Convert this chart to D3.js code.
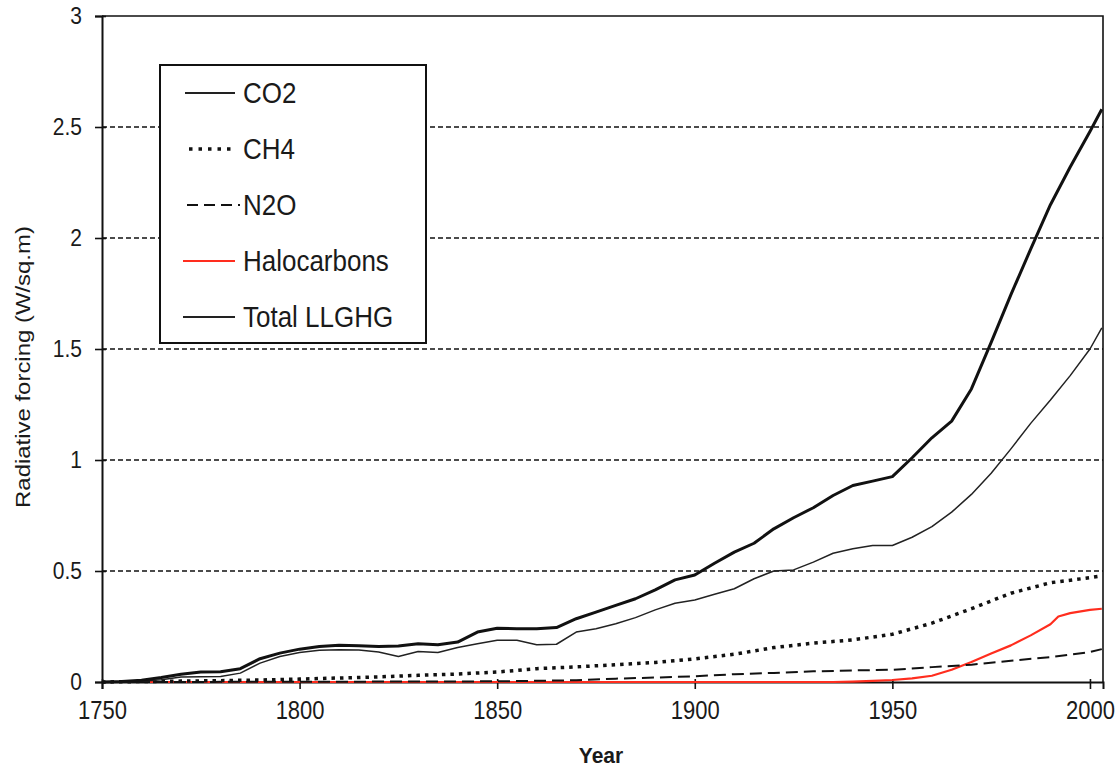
<!DOCTYPE html>
<html>
<head>
<meta charset="utf-8">
<script src="https://cdn.jsdelivr.net/npm/d3@7"></script>
<style>
  html, body { margin: 0; padding: 0; background: #fff; }
  svg { display: block; }
  text { font-family: "Liberation Sans", Arial, sans-serif; fill: #1a1a1a; }
</style>
</head>
<body>
<svg id="chart" width="1117" height="767"></svg>
<script>
// Radiative forcing of long-lived greenhouse gases since 1750 (W/m²)
const xTicks = [1750, 1800, 1850, 1900, 1950, 2000];
const yTicks = [0, 0.5, 1, 1.5, 2, 2.5, 3];
const yTickLabels = ["0", "0.5", "1", "1.5", "2", "2.5", "3"];
const xDomain = [1750, 2003.3];
const yDomain = [0, 3];

const totalYears = [1750, 1755, 1760, 1765, 1770, 1775, 1780, 1785, 1790, 1795, 1800, 1805, 1810, 1815, 1820, 1825, 1830, 1835, 1840, 1845, 1850, 1855, 1860, 1865, 1870, 1875, 1880, 1885, 1890, 1895, 1900, 1905, 1910, 1915, 1920, 1925, 1930, 1935, 1940, 1945, 1950, 1955, 1960, 1965, 1970, 1975, 1980, 1985, 1990, 1995, 2000, 2003];
const totalValues = [0, 0.002, 0.008, 0.02, 0.035, 0.045, 0.046, 0.06, 0.105, 0.13, 0.148, 0.16, 0.165, 0.163, 0.16, 0.162, 0.172, 0.168, 0.18, 0.225, 0.242, 0.24, 0.24, 0.245, 0.285, 0.315, 0.345, 0.375, 0.415, 0.46, 0.482, 0.535, 0.585, 0.625, 0.69, 0.74, 0.785, 0.84, 0.885, 0.905, 0.925, 1.01, 1.10, 1.175, 1.32, 1.53, 1.745, 1.95, 2.15, 2.32, 2.48, 2.58];

const co2Years = [1750, 1755, 1760, 1765, 1770, 1775, 1780, 1785, 1790, 1795, 1800, 1805, 1810, 1815, 1820, 1825, 1830, 1835, 1840, 1845, 1850, 1855, 1860, 1865, 1870, 1875, 1880, 1885, 1890, 1895, 1900, 1905, 1910, 1915, 1920, 1925, 1930, 1935, 1940, 1945, 1950, 1955, 1960, 1965, 1970, 1975, 1980, 1985, 1990, 1995, 2000, 2003];
const co2Values = [0, 0, 0.003, 0.01, 0.022, 0.024, 0.025, 0.04, 0.085, 0.115, 0.133, 0.143, 0.145, 0.144, 0.135, 0.115, 0.137, 0.133, 0.155, 0.172, 0.188, 0.188, 0.168, 0.17, 0.225, 0.24, 0.262, 0.29, 0.325, 0.355, 0.369, 0.395, 0.42, 0.465, 0.5, 0.505, 0.54, 0.58, 0.60, 0.615, 0.615, 0.652, 0.70, 0.765, 0.845, 0.94, 1.05, 1.165, 1.27, 1.38, 1.50, 1.595];

const ch4Years = [1750, 1760, 1770, 1780, 1790, 1800, 1810, 1820, 1830, 1840, 1850, 1860, 1870, 1880, 1890, 1900, 1910, 1920, 1930, 1940, 1950, 1960, 1970, 1980, 1990, 2000, 2003];
const ch4Values = [0, 0.002, 0.004, 0.006, 0.009, 0.013, 0.018, 0.023, 0.03, 0.036, 0.045, 0.06, 0.068, 0.078, 0.088, 0.104, 0.125, 0.155, 0.175, 0.19, 0.215, 0.265, 0.33, 0.40, 0.447, 0.47, 0.478];

const n2oYears = [1750, 1800, 1850, 1870, 1880, 1890, 1900, 1910, 1920, 1930, 1940, 1950, 1960, 1970, 1980, 1990, 2000, 2003];
const n2oValues = [0, 0.001, 0.003, 0.008, 0.015, 0.02, 0.026, 0.035, 0.041, 0.048, 0.052, 0.055, 0.067, 0.078, 0.096, 0.112, 0.135, 0.148];

const haloYears = [1760, 1935, 1940, 1945, 1950, 1955, 1960, 1965, 1970, 1975, 1980, 1985, 1990, 1992, 1995, 2000, 2003];
const haloValues = [0, 0, 0.002, 0.005, 0.009, 0.016, 0.028, 0.055, 0.09, 0.128, 0.165, 0.21, 0.26, 0.295, 0.31, 0.325, 0.33];

const legendLabels = ["CO2", "CH4", "N2O", "Halocarbons", "Total LLGHG"];

const plot = { left: 102, top: 16, right: 1103, bottom: 682 };
const stretch = 1.14; // lettering is drawn tall and narrow

const svg = d3.select("#chart");
const x = d3.scaleLinear().domain(xDomain).range([plot.left, plot.right]);
const y = d3.scaleLinear().domain(yDomain).range([plot.bottom, plot.top]);

// horizontal dashed gridlines
svg.append("g").selectAll("line")
  .data(yTicks.filter(v => v > 0 && v < 3))
  .join("line")
  .attr("x1", plot.left).attr("x2", plot.right)
  .attr("y1", d => y(d)).attr("y2", d => y(d))
  .attr("stroke", "#111").attr("stroke-width", 1.6)
  .attr("stroke-dasharray", "5,3");

// plot frame (top and right)
svg.append("path")
  .attr("d", `M${plot.left},${plot.top}H${plot.right}V${plot.bottom}`)
  .attr("fill", "none").attr("stroke", "#111").attr("stroke-width", 1.6);

// axes
const yAxis = svg.append("g")
  .attr("transform", `translate(${plot.left},0)`)
  .call(d3.axisLeft(y).tickValues(yTicks).tickFormat((d, i) => yTickLabels[i]).tickSize(7).tickPadding(13));
const xAxis = svg.append("g")
  .attr("transform", `translate(0,${plot.bottom})`)
  .call(d3.axisBottom(x).tickValues(xTicks).tickFormat(d3.format("d")).tickSize(7).tickPadding(8));

[yAxis, xAxis].forEach(g => {
  g.select(".domain").attr("stroke", "#111").attr("stroke-width", 2);
  g.selectAll(".tick line").attr("stroke", "#111").attr("stroke-width", 1.6);
  g.selectAll(".tick text").attr("fill", "#1a1a1a").style("font-family", '"Liberation Sans", Arial, sans-serif');
});
yAxis.selectAll(".tick line").attr("x1", 4);
yAxis.selectAll(".tick text").style("font-size", "21px")
  .attr("transform", `scale(1,${stretch})`);
xAxis.selectAll(".tick line").attr("y1", -3);
xAxis.selectAll(".tick text").style("font-size", "22px")
  .attr("y", 0)
  .attr("transform", `translate(0,19) scale(1,${stretch})`);

// axis titles
svg.append("text")
  .attr("transform", `translate(601,763) scale(1,1.05)`)
  .attr("text-anchor", "middle")
  .style("font-size", "21px").style("font-weight", "bold")
  .text("Year");
svg.append("text")
  .attr("transform", `translate(30,367) scale(1,${stretch}) rotate(-90)`)
  .attr("text-anchor", "middle")
  .style("font-size", "21px")
  .text("Radiative forcing (W/sq.m)");

// series lines
const line = d3.line().x(d => x(d[0])).y(d => y(d[1]));
const pairs = (ys, vs) => ys.map((yr, i) => [yr, vs[i]]);

const series = [
  { years: haloYears, values: haloValues, stroke: "#ff2d1e", width: 2.2, dash: null },
  { years: n2oYears, values: n2oValues, stroke: "#111", width: 2, dash: "12,6" },
  { years: ch4Years, values: ch4Values, stroke: "#111", width: 3.5, dash: "3.5,5" },
  { years: co2Years, values: co2Values, stroke: "#222", width: 1.5, dash: null },
  { years: totalYears, values: totalValues, stroke: "#111", width: 3, dash: null }
];
svg.append("g").selectAll("path")
  .data(series)
  .join("path")
  .attr("d", s => line(pairs(s.years, s.values)))
  .attr("fill", "none")
  .attr("stroke", s => s.stroke)
  .attr("stroke-width", s => s.width)
  .attr("stroke-dasharray", s => s.dash)
  .attr("stroke-linejoin", "round");

// legend
const legend = svg.append("g");
legend.append("rect")
  .attr("x", 160).attr("y", 65).attr("width", 266).attr("height", 278)
  .attr("fill", "#fff").attr("stroke", "#111").attr("stroke-width", 2);
const legendStyles = [
  { stroke: "#222", width: 1.8, dash: null, x1: 185, x2: 235 },
  { stroke: "#111", width: 3.5, dash: "3.5,6", x1: 189, x2: 234 },
  { stroke: "#111", width: 2, dash: "11,6", x1: 187, x2: 240 },
  { stroke: "#ff2d1e", width: 2, dash: null, x1: 183, x2: 235 },
  { stroke: "#222", width: 1.8, dash: null, x1: 183, x2: 235 }
];
const rowY = d3.scalePoint().domain(legendLabels).range([93, 317]);
const rows = legend.selectAll("g.row")
  .data(legendLabels)
  .join("g").attr("class", "row")
  .attr("transform", d => `translate(0,${rowY(d)})`);
rows.append("line")
  .attr("x1", (d, i) => legendStyles[i].x1).attr("x2", (d, i) => legendStyles[i].x2)
  .attr("y1", 0).attr("y2", 0)
  .attr("stroke", (d, i) => legendStyles[i].stroke)
  .attr("stroke-width", (d, i) => legendStyles[i].width)
  .attr("stroke-dasharray", (d, i) => legendStyles[i].dash);
rows.append("text")
  .attr("transform", `translate(243,10) scale(1,${stretch})`)
  .style("font-size", "26px")
  .text(d => d);
</script>
</body>
</html>
